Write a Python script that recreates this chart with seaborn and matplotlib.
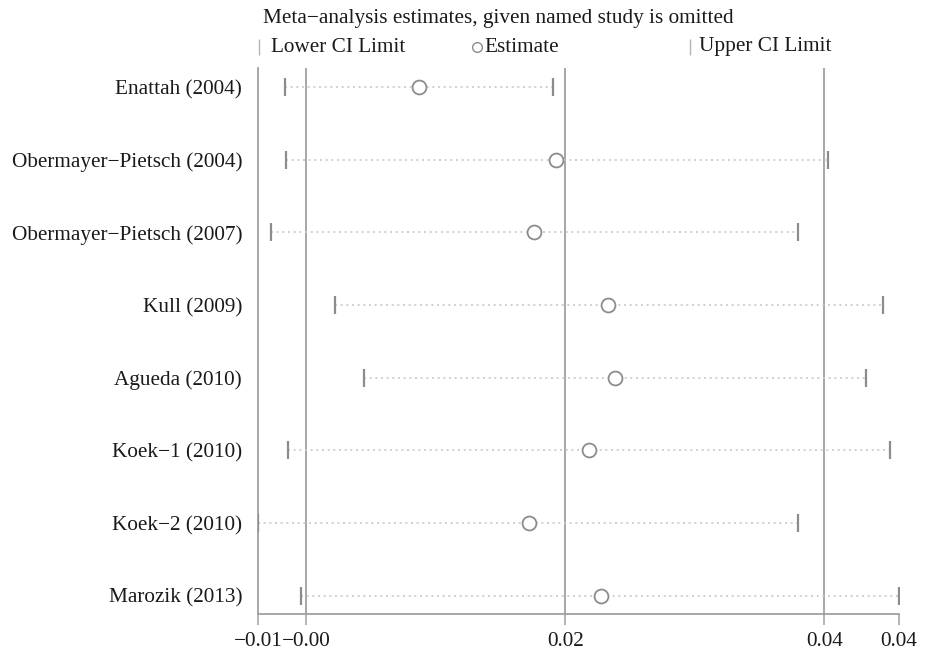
import numpy as np
import pandas as pd
import matplotlib
matplotlib.use("Agg")
import matplotlib.pyplot as plt
import seaborn as sns

# ==================================
# DATA
# ==================================
studies = [
    "Enattah (2004)",
    "Obermayer\u2212Pietsch (2004)",
    "Obermayer\u2212Pietsch (2007)",
    "Kull (2009)",
    "Agueda (2010)",
    "Koek\u22121 (2010)",
    "Koek\u22122 (2010)",
    "Marozik (2013)",
]
estimate = [0.0064, 0.0173, 0.0155, 0.0214, 0.0219, 0.0199, 0.0151, 0.0208]
lower_ci = [-0.0042, -0.0041, -0.0053, -0.0002, 0.0021, -0.0039, -0.0063, -0.0029]
upper_ci = [0.0170, 0.0388, 0.0364, 0.0431, 0.0418, 0.0437, 0.0364, 0.0444]

# overall pooled estimate and its CI (vertical reference lines)
overall_est = 0.0180
overall_lower = -0.0025
overall_upper = 0.0385

df = pd.DataFrame({
    "study": studies,
    "row": np.arange(1, len(studies) + 1),
    "estimate": estimate,
    "lower": lower_ci,
    "upper": upper_ci,
})

# ==================================
# STYLE
# ==================================
sns.set_style("white")
plt.rcParams["font.family"] = ["Liberation Serif", "DejaVu Serif"]

GRAY = "#a0a0a0"
DOT = "#c8c8c8"
MARK = "#8c8c8c"
TXT = "#1a1a1a"
FS = 15.3

fig = plt.figure(figsize=(9.26, 6.54), dpi=100)
ax = fig.add_axes([258 / 926, 1 - 614 / 654, (899 - 258) / 926, (614 - 68) / 654])

# reference lines at the overall estimate and its CI
for v in [overall_lower, overall_est, overall_upper]:
    ax.axvline(v, color=GRAY, lw=1.3, zorder=1)

# dotted CI lines
ax.hlines(df["row"], df["lower"], df["upper"], colors=DOT, linestyles=(0, (1.2, 2.2)),
          lw=1.2, zorder=2)

# CI limit ticks
sns.scatterplot(data=df, x="lower", y="row", marker="|", s=150, color=MARK,
                linewidth=1.6, ax=ax, zorder=3, legend=False)
sns.scatterplot(data=df, x="upper", y="row", marker="|", s=150, color=MARK,
                linewidth=1.6, ax=ax, zorder=3, legend=False)
# estimates
sns.scatterplot(data=df, x="estimate", y="row", marker="o", s=100, facecolor="white",
                edgecolor=MARK, linewidth=1.3, ax=ax, zorder=4, legend=False)

xmin = min(lower_ci)
xmax = max(upper_ci)
ax.set_xlim(xmin, xmax)
ax.set_ylim(len(studies) + 0.25, 0.74)

ticks = [xmin, overall_lower, overall_est, overall_upper, xmax]
ax.set_xticks(ticks)
ax.set_xticklabels([f"{t:.2f}".replace("-", "\u2212") for t in ticks], fontsize=FS, color=TXT)
ax.set_yticks(df["row"])
ax.set_yticklabels(df["study"], fontsize=FS, color=TXT)
ax.tick_params(axis="x", length=8, width=1.1, color=GRAY, pad=5, direction="out", bottom=True)
ax.tick_params(axis="y", length=0, pad=11.5)
ax.set_xlabel("")
ax.set_ylabel("")

sns.despine(ax=ax)
for side in ["left", "bottom"]:
    ax.spines[side].set_color(GRAY)
    ax.spines[side].set_linewidth(1.3)

# ==================================
# TITLE + LEGEND (Stata style, above the plot)
# ==================================
fig.text(263 / 926, 1 - 18 / 654, "Meta\u2212analysis estimates, given named study is omitted",
         fontsize=FS, color=TXT, va="center", ha="left")

ly = 1 - 47 / 654
fig.add_artist(plt.Line2D([259 / 926], [ly], marker="|", markersize=11, color="#b4b4b4",
                          mew=1.0, transform=fig.transFigure))
fig.text(271 / 926, ly, "Lower CI Limit", fontsize=FS, color=TXT, va="center", ha="left")
fig.add_artist(plt.Line2D([477 / 926], [ly], marker="o", markersize=7, mfc="white",
                          mec=MARK, mew=1.0, transform=fig.transFigure))
fig.text(484 / 926, ly, "Estimate", fontsize=FS, color=TXT, va="center", ha="left")
fig.add_artist(plt.Line2D([690 / 926], [ly], marker="|", markersize=11, color="#b4b4b4",
                          mew=1.0, transform=fig.transFigure))
fig.text(699 / 926, ly, "Upper CI Limit", fontsize=FS, color=TXT, va="center", ha="left")

fig.savefig("out.png", dpi=100)
